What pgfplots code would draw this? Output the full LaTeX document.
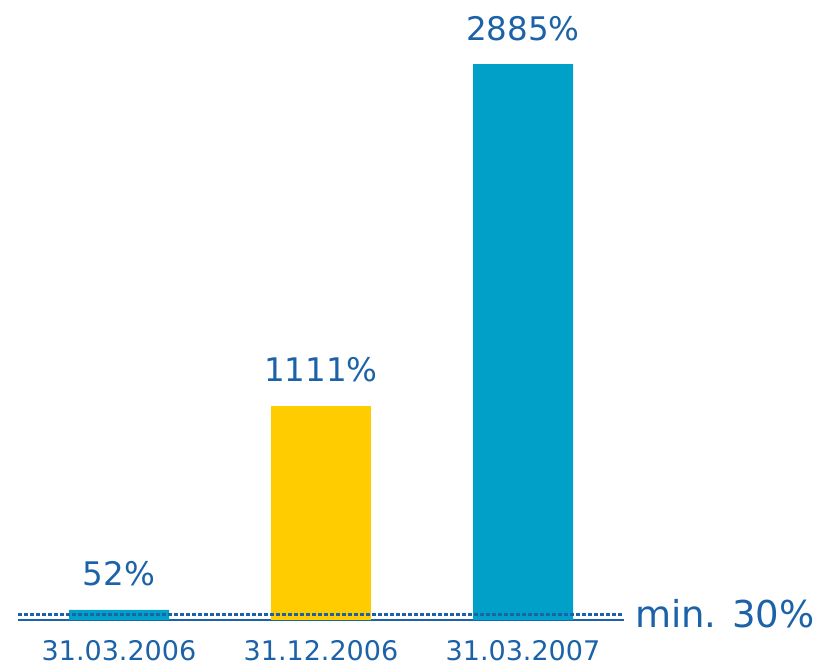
\documentclass[border=0pt]{standalone}
\usepackage{pgfplots}
\pgfplotsset{compat=1.18}
\usepackage{fontspec}
\setmainfont{DejaVu Sans}
\definecolor{txtblue}{RGB}{28,98,168}
\definecolor{barblue}{RGB}{0,160,200}
\definecolor{baryellow}{RGB}{255,204,0}
\begin{document}
\begin{tikzpicture}[x=1pt,y=1pt]
\path[use as bounding box] (0,0) rectangle (832,665);
\begin{axis}[
  at={(18pt,45pt)}, anchor=south west,
  scale only axis,
  width=606pt, height=578pt,
  xmin=-0.5, xmax=2.5, ymin=0, ymax=3000,
  axis x line=bottom, axis y line=none,
  x axis line style={draw=txtblue, line width=1.5pt, -},
  xtick={0,1,2},
  xticklabels={31.03.2006,31.12.2006,31.03.2007},
  major tick length=0pt,
  xticklabel style={text=txtblue, font=\fontsize{27}{32}\selectfont, anchor=base, yshift=-40pt},
  ytick=\empty,
  clip=false,
  /pgf/number format/assume math mode=true,
  /pgf/number format/1000 sep={},
]
\addplot[ybar, bar width=100pt, draw=none, fill=barblue,
  nodes near coords={\pgfmathprintnumber[assume math mode=true,1000 sep={}]{\pgfplotspointmeta}\%},
  nodes near coords style={text=txtblue, font=\fontsize{32.5}{38}\selectfont, anchor=base, yshift=24pt},
  point meta=y]
  coordinates {(0,52) (2,2885)};
\addplot[ybar, bar width=100pt, draw=none, fill=baryellow,
  nodes near coords={\pgfmathprintnumber[assume math mode=true,1000 sep={}]{\pgfplotspointmeta}\%},
  nodes near coords style={text=txtblue, font=\fontsize{32.5}{38}\selectfont, anchor=base, yshift=24pt},
  point meta=y]
  coordinates {(1,1111)};
\addplot[draw=txtblue, line width=3pt, dash pattern=on 3.5pt off 2.5pt, forget plot]
  coordinates {(-0.5,30) (2.5,30)};
\node[text=txtblue, font=\fontsize{37}{44}\selectfont, anchor=base west, inner sep=0pt]
  at (axis cs:2.5,30) [xshift=11pt, yshift=-13pt] {min. 30\%};
\end{axis}
\end{tikzpicture}
\end{document}
